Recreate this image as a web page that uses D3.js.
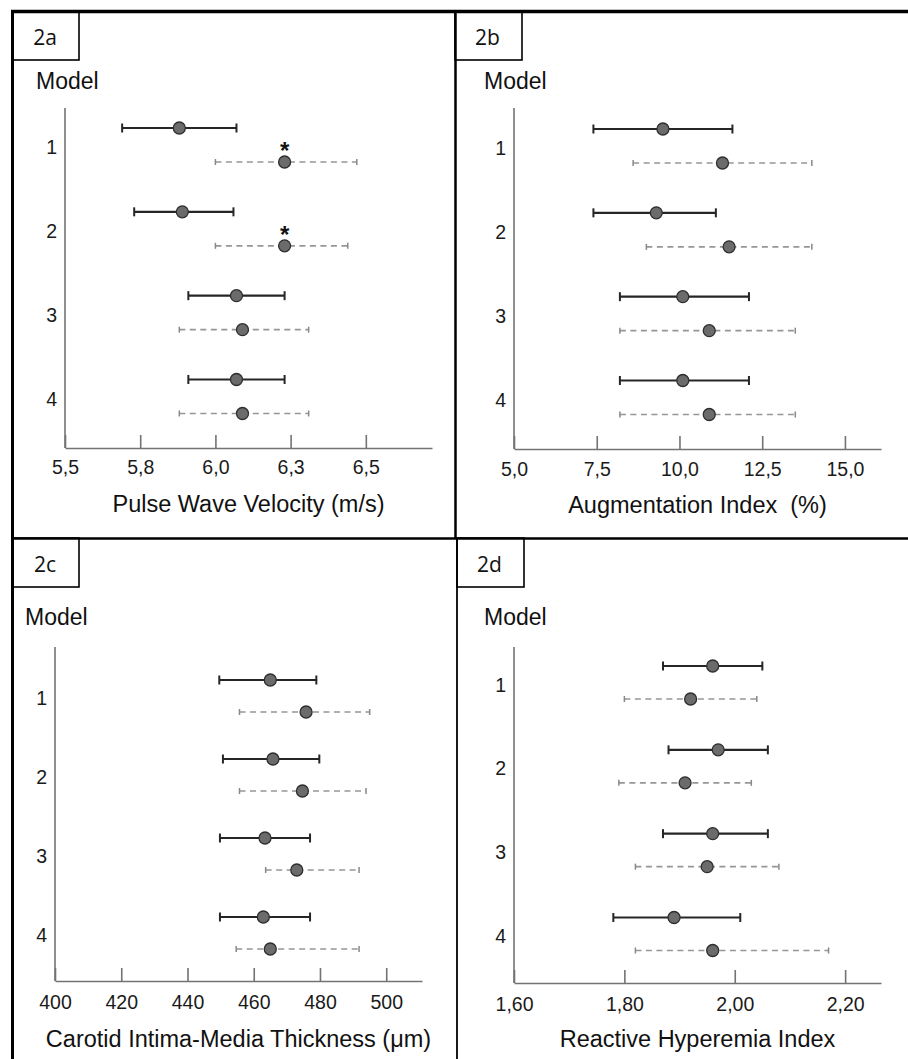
<!DOCTYPE html>
<html>
<head>
<meta charset="utf-8">
<script src="https://cdn.jsdelivr.net/npm/d3@7"></script>
<style>
  html, body { margin: 0; padding: 0; background: #fff; }
  svg { display: block; }
</style>
</head>
<body>
<svg id="chart" width="908" height="1059"></svg>
<script>
// ---------------- DATA ----------------
const models = ["1", "2", "3", "4"];

// each entry: [lower CI, mean, upper CI]
const pwvSolid  = [[5.69, 5.88, 6.07], [5.73, 5.89, 6.06], [5.91, 6.07, 6.23], [5.91, 6.07, 6.23]];
const pwvDashed = [[6.00, 6.23, 6.47], [6.00, 6.23, 6.44], [5.88, 6.09, 6.31], [5.88, 6.09, 6.31]];
const pwvStars  = ["1", "2"];
const pwvTicks  = [5.5, 5.75, 6.0, 6.25, 6.5];
const pwvTickLabels = ["5,5", "5,8", "6,0", "6,3", "6,5"];
const pwvDomain = [5.5, 6.72];

const aixSolid  = [[7.4, 9.5, 11.6], [7.4, 9.3, 11.1], [8.2, 10.1, 12.1], [8.2, 10.1, 12.1]];
const aixDashed = [[8.6, 11.3, 14.0], [9.0, 11.5, 14.0], [8.2, 10.9, 13.5], [8.2, 10.9, 13.5]];
const aixTicks  = [5, 7.5, 10, 12.5, 15];
const aixTickLabels = ["5,0", "7,5", "10,0", "12,5", "15,0"];
const aixDomain = [5, 16.09];

const cimtSolid  = [[449.6, 465.0, 478.9], [450.7, 465.8, 479.8], [449.8, 463.4, 477.0], [449.8, 462.9, 477.0]];
const cimtDashed = [[455.7, 475.8, 495.0], [455.7, 474.7, 493.9], [463.6, 473.0, 491.8], [454.7, 465.0, 491.8]];
const cimtTicks  = [400, 420, 440, 460, 480, 500];
const cimtTickLabels = ["400", "420", "440", "460", "480", "500"];
const cimtDomain = [400, 510.8];

const rhiSolid  = [[1.87, 1.96, 2.05], [1.88, 1.97, 2.06], [1.87, 1.96, 2.06], [1.78, 1.89, 2.01]];
const rhiDashed = [[1.80, 1.92, 2.04], [1.79, 1.91, 2.03], [1.82, 1.95, 2.08], [1.82, 1.96, 2.17]];
const rhiTicks  = [1.6, 1.8, 2.0, 2.2];
const rhiTickLabels = ["1,60", "1,80", "2,00", "2,20"];
const rhiDomain = [1.6, 2.265];

const panelLabels = ["2a", "2b", "2c", "2d"];
const axisTitles = ["Pulse Wave Velocity (m/s)", "Augmentation Index  (%)",
                    "Carotid Intima-Media Thickness (\u03bcm)", "Reactive Hyperemia Index"];
const yAxisTitle = "Model";

// ---------------- LAYOUT ----------------
const panels = [
  { label: panelLabels[0], box: [13, 11, 79, 60], model: [36, 89],
    x0: 65, x1: 432, axisY: 448, yTop: 108, rows: [145, 396.5], off: 17,
    tickBase: 474, titleBase: 512,
    solid: pwvSolid, dashed: pwvDashed, stars: pwvStars,
    ticks: pwvTicks, tickLabels: pwvTickLabels, domain: pwvDomain, title: axisTitles[0] },
  { label: panelLabels[1], box: [455, 11, 522, 60], model: [484, 89],
    x0: 514, x1: 881, axisY: 449, yTop: 108, rows: [146, 397.5], off: 17,
    tickBase: 476, titleBase: 513,
    solid: aixSolid, dashed: aixDashed, stars: [],
    ticks: aixTicks, tickLabels: aixTickLabels, domain: aixDomain, title: axisTitles[1] },
  { label: panelLabels[2], box: [13, 538, 79, 587], model: [25, 625],
    x0: 55, x1: 422, axisY: 981, yTop: 647, rows: [696, 933], off: 16,
    tickBase: 1009, titleBase: 1047,
    solid: cimtSolid, dashed: cimtDashed, stars: [],
    ticks: cimtTicks, tickLabels: cimtTickLabels, domain: cimtDomain, title: axisTitles[2] },
  { label: panelLabels[3], box: [457, 538, 524, 587], model: [484, 625],
    x0: 514, x1: 881, axisY: 983, yTop: 647, rows: [682.5, 934], off: 16.5,
    tickBase: 1011, titleBase: 1047,
    solid: rhiSolid, dashed: rhiDashed, stars: [],
    ticks: rhiTicks, tickLabels: rhiTickLabels, domain: rhiDomain, title: axisTitles[3] }
];

const svg = d3.select("#chart");
const AX = "#737373";
const FONT = "'Liberation Sans', Arial, sans-serif";

// ---------------- FRAME ----------------
const frame = svg.append("g").attr("stroke", "#000").attr("fill", "none");
frame.append("line").attr("x1", 11).attr("x2", 908).attr("y1", 11.5).attr("y2", 11.5).attr("stroke-width", 3.5);
frame.append("line").attr("x1", 12.5).attr("x2", 12.5).attr("y1", 10).attr("y2", 1059).attr("stroke-width", 3);
frame.append("line").attr("x1", 455.5).attr("x2", 455.5).attr("y1", 11).attr("y2", 539).attr("stroke-width", 2.5);
frame.append("line").attr("x1", 457).attr("x2", 457).attr("y1", 538).attr("y2", 1059).attr("stroke-width", 1.8);
frame.append("line").attr("x1", 12).attr("x2", 908).attr("y1", 538.5).attr("y2", 538.5).attr("stroke-width", 2.5);

// ---------------- PANELS ----------------
panels.forEach(p => {
  const g = svg.append("g");

  // label box
  const [bx0, by0, bx1, by1] = p.box;
  g.append("rect").attr("x", bx0).attr("y", by0).attr("width", bx1 - bx0).attr("height", by1 - by0)
    .attr("fill", "none").attr("stroke", "#000").attr("stroke-width", 1.6);
  g.append("text").attr("x", (bx0 + bx1) / 2 - 1).attr("y", by0 + 34)
    .attr("text-anchor", "middle").attr("font-family", "'Open Sans', 'Noto Sans', sans-serif")
    .attr("font-size", 21).attr("fill", "#111").text(p.label);

  // "Model" title
  g.append("text").attr("x", p.model[0]).attr("y", p.model[1])
    .attr("font-family", FONT).attr("font-size", 23).attr("fill", "#111").text(yAxisTitle);

  const x = d3.scaleLinear().domain(p.domain).range([p.x0, p.x1]);
  const y = d3.scalePoint().domain(models).range(p.rows);

  // y axis line
  g.append("line").attr("x1", p.x0).attr("x2", p.x0).attr("y1", p.yTop).attr("y2", p.axisY)
    .attr("stroke", AX).attr("stroke-width", 1.6);

  // x axis
  const xAxis = d3.axisBottom(x).tickValues(p.ticks)
    .tickFormat((d, i) => p.tickLabels[i]).tickSizeInner(-13).tickSizeOuter(0).tickPadding(p.tickBase - p.axisY - 14);
  const ax = g.append("g").attr("transform", `translate(0,${p.axisY})`).call(xAxis);
  ax.select(".domain").attr("stroke", AX).attr("stroke-width", 1.6);
  ax.selectAll(".tick line").attr("stroke", AX).attr("stroke-width", 1.6);
  ax.selectAll(".tick text").attr("font-family", FONT).attr("font-size", 19.5).attr("fill", "#1a1a1a");

  // category labels
  g.selectAll(".cat").data(models).join("text")
    .attr("x", p.x0 - 8).attr("y", d => y(d) + 2 + 7)
    .attr("text-anchor", "end").attr("font-family", FONT).attr("font-size", 19.5).attr("fill", "#1a1a1a")
    .text(d => d);

  // axis title
  g.append("text").attr("x", (p.x0 + p.x1) / 2).attr("y", p.titleBase)
    .attr("text-anchor", "middle").attr("font-family", FONT).attr("font-size", 23.5).attr("fill", "#111")
    .attr("xml:space", "preserve").style("white-space", "pre")
    .text(p.title);

  // series
  const series = [
    { data: p.solid, dy: -p.off, stroke: "#262626", width: 2.2, dash: null, cap: 4.5, capStroke: "#262626" },
    { data: p.dashed, dy: p.off, stroke: "#969696", width: 1.7, dash: "6,4.5", cap: 3, capStroke: "#888" }
  ];
  series.forEach(s => {
    const sg = g.append("g");
    const rows = s.data.map((v, i) => ({ m: models[i], lo: v[0], mean: v[1], hi: v[2] }));
    sg.selectAll(".ci").data(rows).join("line")
      .attr("x1", d => x(d.lo)).attr("x2", d => x(d.hi))
      .attr("y1", d => y(d.m) + s.dy).attr("y2", d => y(d.m) + s.dy)
      .attr("stroke", s.stroke).attr("stroke-width", s.width)
      .attr("stroke-dasharray", s.dash);
    ["lo", "hi"].forEach(k => {
      sg.selectAll(".cap" + k).data(rows).join("line")
        .attr("x1", d => x(d[k])).attr("x2", d => x(d[k]))
        .attr("y1", d => y(d.m) + s.dy - s.cap).attr("y2", d => y(d.m) + s.dy + s.cap)
        .attr("stroke", s.capStroke).attr("stroke-width", s.dash ? 1.5 : 2);
    });
    sg.selectAll("circle").data(rows).join("circle")
      .attr("cx", d => x(d.mean)).attr("cy", d => y(d.m) + s.dy).attr("r", 6)
      .attr("fill", "#6b6b6b").attr("stroke", "#2e2e2e").attr("stroke-width", 1.3);
  });

  // significance stars on dashed series
  const starRows = p.stars.map(m => ({ m, v: p.dashed[models.indexOf(m)][1] }));
  g.selectAll(".star").data(starRows).join("text")
    .attr("x", d => x(d.v)).attr("y", d => y(d.m) + p.off - 3)
    .attr("text-anchor", "middle").attr("font-family", FONT).attr("font-weight", "bold")
    .attr("font-size", 24).attr("fill", "#111").text("*");
});
</script>
</body>
</html>
